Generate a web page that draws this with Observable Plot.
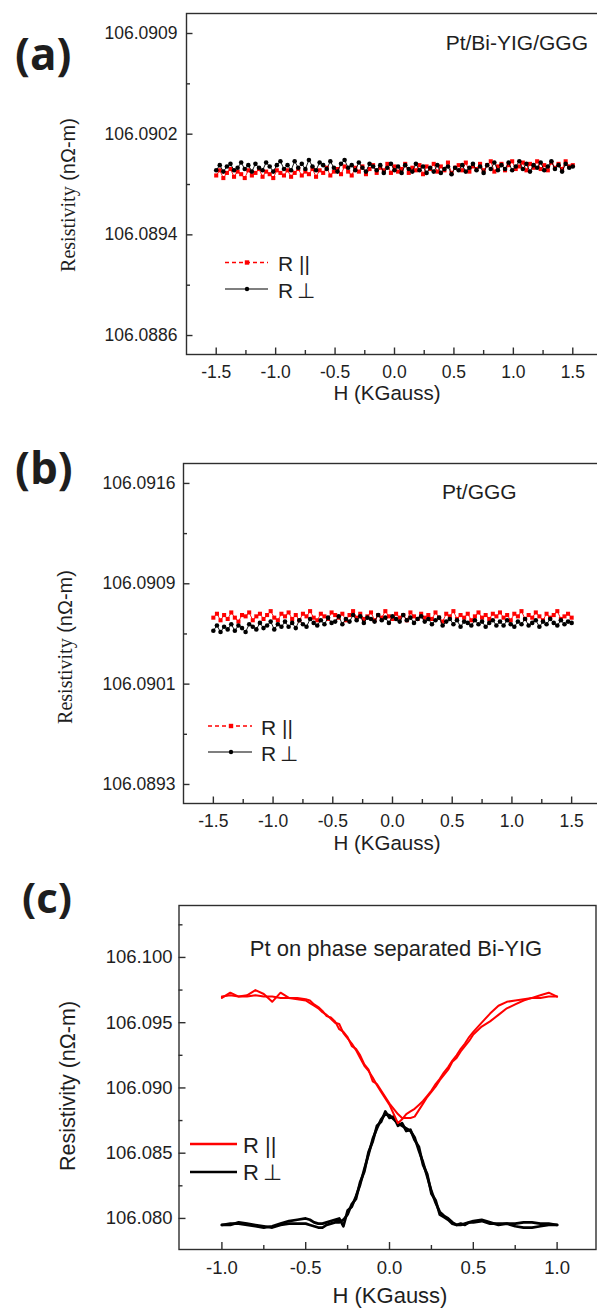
<!DOCTYPE html>
<html><head><meta charset="utf-8">
<script src="https://cdn.jsdelivr.net/npm/d3@7"></script>
<script src="https://cdn.jsdelivr.net/npm/@observablehq/plot@0.6"></script>
<style>
html,body{margin:0;padding:0;background:#fff;overflow:hidden;}
#wrap{position:relative;width:597px;height:1310px;overflow:hidden;background:#fff;}
#wrap svg{max-width:none !important;}
</style></head>
<body><div id="wrap"></div>
<script>
// ---------- DATA ----------
// Panels (a) and (b): field sweep H (KGauss)
const hAB = [-1.50,-1.47,-1.44,-1.41,-1.38,-1.35,-1.32,-1.29,-1.26,-1.23,-1.20,-1.17,-1.14,-1.11,-1.08,-1.05,-1.02,-0.99,-0.96,-0.93,
-0.90,-0.87,-0.84,-0.81,-0.78,-0.75,-0.72,-0.69,-0.66,-0.63,-0.60,-0.57,-0.54,-0.51,-0.48,-0.45,-0.42,-0.39,-0.36,-0.33,
-0.30,-0.27,-0.24,-0.21,-0.18,-0.15,-0.12,-0.09,-0.06,-0.03,0.00,0.03,0.06,0.09,0.12,0.15,0.18,0.21,0.24,0.27,
0.30,0.33,0.36,0.39,0.42,0.45,0.48,0.51,0.54,0.57,0.60,0.63,0.66,0.69,0.72,0.75,0.78,0.81,0.84,0.87,
0.90,0.93,0.96,0.99,1.02,1.05,1.08,1.11,1.14,1.17,1.20,1.23,1.26,1.29,1.32,1.35,1.38,1.41,1.44,1.47,1.50];

// (a) Pt/Bi-YIG/GGG
const rParA = [106.08984,106.08988,106.08982,106.08986,106.08989,106.08983,106.08987,106.08985,106.08982,106.08988,106.08984,106.08986,106.08989,106.08983,106.08987,106.08985,106.08982,106.08988,106.08986,106.08984,
106.08988,106.08983,106.08986,106.08989,106.08984,106.08987,106.08985,106.08989,106.08983,106.08988,106.08986,106.08990,106.08984,106.08987,106.08989,106.08985,106.08991,106.08987,106.08984,106.08990,
106.08987,106.08991,106.08985,106.08989,106.08992,106.08986,106.08990,106.08988,106.08993,106.08986,106.08991,106.08987,106.08989,106.08993,106.08986,106.08990,106.08988,106.08992,106.08985,106.08991,
106.08989,106.08993,106.08987,106.08991,106.08988,106.08994,106.08986,106.08990,106.08992,106.08988,106.08994,106.08987,106.08991,106.08989,106.08993,106.08988,106.08992,106.08995,106.08987,106.08991,
106.08993,106.08988,106.08992,106.08995,106.08989,106.08991,106.08994,106.08988,106.08993,106.08990,106.08995,106.08989,106.08992,106.08988,106.08994,106.08990,106.08993,106.08989,106.08995,106.08991,106.08992];
const rPerpA = [106.08988,106.08992,106.08987,106.08991,106.08993,106.08988,106.08990,106.08994,106.08989,106.08992,106.08987,106.08993,106.08990,106.08988,106.08994,106.08991,106.08987,106.08992,106.08995,106.08989,
106.08992,106.08988,106.08995,106.08990,106.08993,106.08989,106.08996,106.08991,106.08988,106.08994,106.08992,106.08989,106.08995,106.08990,106.08987,106.08993,106.08996,106.08990,106.08992,106.08988,
106.08994,106.08990,106.08987,106.08993,106.08991,106.08988,106.08992,106.08986,106.08990,106.08993,106.08988,106.08991,106.08986,106.08992,106.08989,106.08987,106.08993,106.08988,106.08991,106.08986,
106.08990,106.08987,106.08992,106.08986,106.08989,106.08991,106.08985,106.08990,106.08988,106.08992,106.08987,106.08990,106.08993,106.08988,106.08991,106.08986,106.08992,106.08989,106.08994,106.08988,
106.08992,106.08989,106.08994,106.08988,106.08991,106.08995,106.08989,106.08993,106.08987,106.08992,106.08990,106.08994,106.08988,106.08991,106.08995,106.08989,106.08992,106.08987,106.08993,106.08990,106.08991];

// (b) Pt/GGG
const rParB = [106.09060,106.09063,106.09058,106.09062,106.09059,106.09064,106.09060,106.09057,106.09062,106.09061,106.09064,106.09058,106.09061,106.09063,106.09059,106.09062,106.09065,106.09060,106.09058,106.09063,
106.09061,106.09064,106.09059,106.09062,106.09058,106.09063,106.09061,106.09065,106.09060,106.09058,106.09063,106.09061,106.09059,106.09064,106.09062,106.09060,106.09063,106.09058,106.09062,106.09065,
106.09060,106.09063,106.09059,106.09061,106.09064,106.09058,106.09062,106.09060,106.09065,106.09061,106.09059,106.09063,106.09060,106.09062,106.09058,106.09064,106.09061,106.09059,106.09063,106.09060,
106.09062,106.09059,106.09064,106.09060,106.09057,106.09063,106.09061,106.09065,106.09059,106.09062,106.09060,106.09063,106.09058,106.09061,106.09064,106.09060,106.09062,106.09059,106.09063,106.09061,
106.09064,106.09060,106.09062,106.09058,106.09063,106.09061,106.09065,106.09059,106.09062,106.09060,106.09064,106.09061,106.09058,106.09063,106.09060,106.09062,106.09065,106.09059,106.09061,106.09063,106.09060];
const rPerpB = [106.09050,106.09054,106.09049,106.09053,106.09051,106.09055,106.09050,106.09054,106.09052,106.09049,106.09055,106.09053,106.09051,106.09056,106.09052,106.09054,106.09057,106.09051,106.09055,106.09053,
106.09057,106.09053,106.09056,106.09052,106.09058,106.09055,106.09053,106.09059,106.09056,106.09054,106.09058,106.09055,106.09060,106.09056,106.09057,106.09061,106.09055,106.09059,106.09057,106.09062,
106.09058,106.09061,106.09056,106.09060,106.09059,106.09057,106.09062,106.09058,106.09060,106.09056,106.09061,106.09059,106.09057,106.09062,106.09058,106.09060,106.09056,106.09059,106.09061,106.09057,
106.09059,106.09055,106.09058,106.09060,106.09054,106.09057,106.09059,106.09055,106.09058,106.09053,106.09057,106.09056,106.09054,106.09058,106.09055,106.09057,106.09053,106.09056,106.09058,106.09054,
106.09057,106.09054,106.09058,106.09055,106.09053,106.09057,106.09055,106.09059,106.09054,106.09056,106.09058,106.09053,106.09057,106.09055,106.09059,106.09056,106.09054,106.09058,106.09055,106.09057,106.09056];

// (c) Pt on phase separated Bi-YIG : two sweep branches per series
const hC = [-1.00,-0.95,-0.90,-0.85,-0.80,-0.75,-0.70,-0.65,-0.60,-0.55,
-0.500,-0.475,-0.450,-0.425,-0.400,-0.375,-0.350,-0.325,-0.300,-0.275,
-0.250,-0.225,-0.200,-0.175,-0.150,-0.125,-0.100,-0.075,-0.050,-0.025,
0.000,0.025,0.050,0.075,0.100,0.125,0.150,0.175,0.200,0.225,
0.250,0.275,0.300,0.325,0.350,0.375,0.400,0.425,0.450,0.475,
0.500,
0.55,0.60,0.65,0.70,0.75,0.80,0.85,0.90,0.95,1.00];
const rParUpC = [106.0970,106.0971,106.0970,106.0970,106.0971,106.0970,106.0970,106.0969,106.0969,106.0968,
106.0967,106.0965,106.0963,106.0961,106.0958,106.0956,106.0953,106.0950,106.0949,106.0942,
106.0938,106.0934,106.0929,106.0923,106.0917,106.0913,106.0908,106.0902,106.0897,106.0892,
106.0887,106.0880,106.0873,106.0876,106.0880,106.0882,106.0884,106.0887,106.0890,106.0894,
106.0898,106.0903,106.0907,106.0912,106.0916,106.0921,106.0925,106.0930,106.0934,106.0939,
106.0943,
106.0950,106.0957,106.0963,106.0966,106.0967,106.0968,106.0969,106.0969,106.0970,106.0970];
const rParDownC = [106.0969,106.0973,106.0970,106.0971,106.0975,106.0972,106.0966,106.0973,106.0969,106.0969,
106.0968,106.0967,106.0964,106.0962,106.0959,106.0955,106.0954,106.0951,106.0945,106.0943,
106.0939,106.0932,106.0930,106.0925,106.0918,106.0914,106.0905,106.0903,106.0898,106.0893,
106.0888,106.0884,106.0880,106.0877,106.0877,106.0877,106.0878,106.0883,106.0888,106.0893,
106.0897,106.0901,106.0906,106.0910,106.0914,106.0920,106.0923,106.0928,106.0932,106.0936,
106.0941,
106.0947,106.0951,106.0956,106.0961,106.0964,106.0967,106.0969,106.0971,106.0973,106.0970];
const rPerpUpC = [106.0795,106.0796,106.0796,106.0795,106.0794,106.0793,106.0794,106.0796,106.0798,106.0799,
106.0800,106.0799,106.0797,106.0796,106.0796,106.0797,106.0798,106.0799,106.0800,106.0794,
106.0806,106.0809,106.0817,106.0826,106.0838,106.0849,106.0861,106.0869,106.0876,106.0880,
106.0879,106.0876,106.0873,106.0871,106.0869,106.0867,106.0862,106.0852,106.0843,106.0832,
106.0821,106.0812,106.0805,106.0802,106.0800,106.0797,106.0795,106.0795,106.0796,106.0797,
106.0797,
106.0798,106.0796,106.0796,106.0796,106.0796,106.0797,106.0797,106.0796,106.0796,106.0795];
const rPerpDownC = [106.0795,106.0795,106.0797,106.0796,106.0795,106.0794,106.0793,106.0795,106.0796,106.0796,
106.0796,106.0795,106.0794,106.0793,106.0793,106.0795,106.0796,106.0797,106.0797,106.0799,
106.0803,106.0811,106.0815,106.0828,106.0836,106.0851,106.0859,106.0871,106.0874,106.0882,
106.0877,106.0878,106.0871,106.0873,106.0867,106.0868,106.0860,106.0855,106.0841,106.0834,
106.0819,106.0814,106.0803,106.0801,106.0799,106.0796,106.0795,106.0796,106.0795,106.0797,
106.0798,
106.0799,106.0797,106.0795,106.0796,106.0794,106.0793,106.0793,106.0794,106.0795,106.0795];

// Tick values and labels
const xTicksAB = [-1.5,-1.0,-0.5,0.0,0.5,1.0,1.5];
const xTicksC = [-1.0,-0.5,0.0,0.5,1.0];
const yTicksA = [106.0886,106.08938,106.09016,106.09094];
const yLabelsA = ["106.0886","106.0894","106.0902","106.0909"];
const yTicksB = [106.08932,106.09009,106.09086,106.09163];
const yLabelsB = ["106.0893","106.0901","106.0909","106.0916"];
const yTicksC = [106.080,106.085,106.090,106.095,106.100];
const yLabelsC = ["106.080","106.085","106.090","106.095","106.100"];

const seriesNames = ["R ||", "R\u2009\u22A5"];
const panelLabels = ["(a)", "(b)", "(c)"];
const sampleNames = ["Pt/Bi-YIG/GGG", "Pt/GGG", "Pt on phase separated Bi-YIG"];
const xTitle = "H (KGauss)";

// ---------- DRAWING ----------
const RED = "#ff0000", BLACK = "#000000", AX = "#2e2e2e", TXT = "#1e1e1e";
const SANS = "'Liberation Sans', Arial, sans-serif";
const SERIF = "'Liberation Serif', 'Times New Roman', serif";
const wrap = document.getElementById("wrap");

function rows(h, v) { return h.map((x, i) => ({h: x, v: v[i]})); }

function minors(t, dom) {
  const s = t[1] - t[0], out = [t[0] - s / 2];
  for (let i = 0; i < t.length - 1; i++) out.push((t[i] + t[i + 1]) / 2);
  out.push(t[t.length - 1] + s / 2);
  const lo = Math.min(...dom), hi = Math.max(...dom), tol = (hi - lo) * 0.01;
  return out.filter(d => d > lo + tol && d < hi - tol);
}

function panel(cfg) {
  const {top, width, height, mt, mr, mb, ml, xDomain, yDomain, xTicks, yTicks, yLabels,
         fs, tl, tm, padX, padY, marks} = cfg;
  const fh = height - mt - mb, fw = width - ml - mr;
  const lab = new Map(yTicks.map((t, i) => [t, yLabels[i]]));
  const ax = {stroke: AX, strokeWidth: 1.4};
  // inward tick lengths, converted into data units of the opposite scale
  const yLo = yDomain[0], ySpan = yDomain[1] - yDomain[0];
  const xLo = xDomain[0], xSpan = xDomain[1] - xDomain[0];
  const yLen = len => yLo + ySpan * len / fh;
  const xLen = len => xLo + xSpan * len / fw;
  const p = Plot.plot({
    width, height, marginTop: mt, marginRight: mr, marginBottom: mb, marginLeft: ml,
    style: {fontFamily: SANS, fontSize: fs + "px", color: TXT, background: "transparent", overflow: "visible"},
    x: {domain: xDomain},
    y: {domain: yDomain},
    marks: [
      ...marks,
      Plot.frame(ax),
      Plot.ruleX(xTicks, {x: d => d, y1: () => yLo, y2: () => yLen(tl), ...ax}),
      Plot.ruleX(minors(xTicks, xDomain), {x: d => d, y1: () => yLo, y2: () => yLen(tm), ...ax}),
      Plot.ruleY(yTicks, {y: d => d, x1: () => xLo, x2: () => xLen(tl), ...ax}),
      Plot.ruleY(minors(yTicks, yDomain), {y: d => d, x1: () => xLo, x2: () => xLen(tm), ...ax}),
      Plot.axisX(xTicks, {tickSize: 0, tickPadding: padX, tickFormat: d => d.toFixed(1), fontSize: fs, fill: TXT, label: null}),
      Plot.axisY(yTicks, {tickSize: 0, tickPadding: padY, tickFormat: d => lab.get(d), fontSize: fs, fill: TXT, label: null})
    ]
  });
  p.style.position = "absolute";
  p.style.left = "0px";
  p.style.top = top + "px";
  p.style.maxWidth = "none";
  wrap.appendChild(p);
}

function scatterMarks(h, par, perp) {
  const a = rows(h, par), b = rows(h, perp);
  return [
    Plot.line(a, {x: "h", y: "v", stroke: RED, strokeWidth: 0.9}),
    Plot.dot(a, {x: "h", y: "v", fill: RED, r: 2.3, symbol: "square"}),
    Plot.line(b, {x: "h", y: "v", stroke: BLACK, strokeWidth: 0.9}),
    Plot.dot(b, {x: "h", y: "v", fill: BLACK, r: 2.3})
  ];
}

// (a)
panel({top: 0, width: 602, height: 400, mt: 13, mr: 0, mb: 46, ml: 186,
  xDomain: [-1.75, 1.75], yDomain: [106.088453, 106.091095],
  xTicks: xTicksAB, yTicks: yTicksA, yLabels: yLabelsA,
  fs: 17.5, tl: 6.5, tm: 4, padX: 11, padY: 9,
  marks: scatterMarks(hAB, rParA, rPerpA)});

// (b)
panel({top: 450, width: 601, height: 400, mt: 13, mr: 0, mb: 47, ml: 183,
  xDomain: [-1.75, 1.75], yDomain: [106.089174, 106.091783],
  xTicks: xTicksAB, yTicks: yTicksB, yLabels: yLabelsB,
  fs: 17.5, tl: 6.5, tm: 4, padX: 11, padY: 8,
  marks: scatterMarks(hAB, rParB, rPerpB)});

// (c)
panel({top: 880, width: 597, height: 430, mt: 25, mr: 1.5, mb: 61, ml: 178.5,
  xDomain: [-1.256, 1.232], yDomain: [106.07762, 106.10398],
  xTicks: xTicksC, yTicks: yTicksC, yLabels: yLabelsC,
  fs: 18.5, tl: 7, tm: 4, padX: 11, padY: 6.5,
  marks: [
    Plot.line(rows(hC, rPerpUpC), {x: "h", y: "v", stroke: BLACK, strokeWidth: 2.7}),
    Plot.line(rows(hC, rPerpDownC), {x: "h", y: "v", stroke: BLACK, strokeWidth: 2.7}),
    Plot.line(rows(hC, rParUpC), {x: "h", y: "v", stroke: RED, strokeWidth: 2}),
    Plot.line(rows(hC, rParDownC), {x: "h", y: "v", stroke: RED, strokeWidth: 2})
  ]});

// ---------- overlay: labels, titles, legends ----------
const ov = d3.create("svg").attr("width", 597).attr("height", 1310)
  .style("position", "absolute").style("left", "0px").style("top", "0px")
  .style("pointer-events", "none");

function txt(x, y, s, size, opts = {}) {
  return ov.append("text").attr("x", x).attr("y", y)
    .attr("font-family", opts.family || SANS).attr("font-size", size)
    .attr("font-weight", opts.weight || "normal")
    .attr("text-anchor", opts.anchor || "start").attr("fill", TXT).text(s);
}

// panel letters
txt(15, 70, panelLabels[0], 44, {family: "'Open Sans', sans-serif", weight: "bold"});
txt(15, 484, panelLabels[1], 44, {family: "'Open Sans', sans-serif", weight: "bold"});
txt(22, 913, panelLabels[2], 42, {family: "'Open Sans', sans-serif", weight: "bold"});

// sample names
txt(588, 50, sampleNames[0], 21, {anchor: "end"});
txt(442, 499, sampleNames[1], 21);
txt(396, 956, sampleNames[2], 22, {anchor: "middle"});

// x titles
txt(387, 400, xTitle, 20.5, {anchor: "middle"});
txt(387, 850, xTitle, 20.5, {anchor: "middle"});
txt(390, 1303, xTitle, 22, {anchor: "middle"});

// y titles
function yTitleMixed(x, y) {
  const t = ov.append("text").attr("transform", `translate(${x},${y}) rotate(-90)`)
    .attr("text-anchor", "middle").attr("fill", TXT);
  t.append("tspan").attr("font-family", SERIF).attr("font-size", 20).text("Resistivity");
  t.append("tspan").attr("font-family", SANS).attr("font-size", 20).text(" (n\u03A9-m)");
}
yTitleMixed(75, 195);
yTitleMixed(72, 647);
ov.append("text").attr("transform", "translate(75,1086) rotate(-90)")
  .attr("text-anchor", "middle").attr("fill", TXT)
  .attr("font-family", SANS).attr("font-size", 21.5).text("Resistivity (n\u03A9-m)");

// legends
function legendScatter(x0, x1, xm, yr, yb, xt) {
  ov.append("line").attr("x1", x0).attr("x2", x1).attr("y1", yr).attr("y2", yr)
    .attr("stroke", RED).attr("stroke-width", 1.4).attr("stroke-dasharray", "4,3");
  ov.append("rect").attr("x", xm - 2.2).attr("y", yr - 2.2).attr("width", 4.4).attr("height", 4.4).attr("fill", RED);
  ov.append("line").attr("x1", x0).attr("x2", x1).attr("y1", yb).attr("y2", yb)
    .attr("stroke", BLACK).attr("stroke-width", 1.2);
  ov.append("circle").attr("cx", xm).attr("cy", yb).attr("r", 2.2).attr("fill", BLACK);
  txt(xt, yr + 8.5, seriesNames[0], 21);
  txt(xt, yb + 8.5, seriesNames[1], 21);
}
legendScatter(225, 268, 247, 262.5, 289, 278);
legendScatter(208, 252, 231, 726, 752, 261);

ov.append("line").attr("x1", 190).attr("x2", 237).attr("y1", 1144).attr("y2", 1144)
  .attr("stroke", RED).attr("stroke-width", 2.5);
ov.append("line").attr("x1", 190).attr("x2", 237).attr("y1", 1172).attr("y2", 1172)
  .attr("stroke", BLACK).attr("stroke-width", 2.5);
txt(243, 1153, seriesNames[0], 22);
txt(243, 1180, seriesNames[1], 22);

wrap.appendChild(ov.node());
</script>
</body></html>
